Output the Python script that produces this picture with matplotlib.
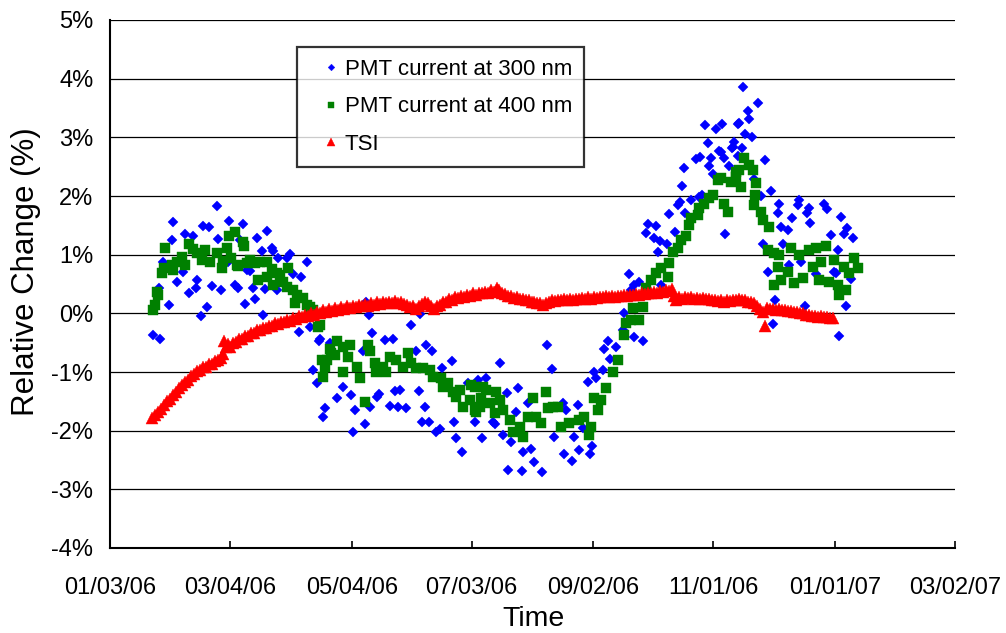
import numpy as np
import matplotlib
matplotlib.use("Agg")
import matplotlib.pyplot as plt
import matplotlib.dates as mdates
from matplotlib.ticker import FixedLocator, FuncFormatter

plt.rcParams['font.family'] = ['Liberation Sans', 'DejaVu Sans']

# ---------------- data (day of year 2006, relative change in %) ----------------
pmt300_day = [24.7, 28, 27.5, 29.7, 32.7, 33.9, 34.7, 36.4, 39.7, 40.5, 42.7, 44.4, 46, 46.7, 48.5, 49.7,
              51.7, 52.7, 53.9, 56.7, 57.2, 58.4, 62.2, 62.7, 65.5, 67.2, 68, 69.4, 70.5, 71.4, 73, 74.7,
              75.5, 76.7, 78.9, 79.4, 80.5, 81.4, 83.9, 84.7, 86.4, 87.2, 91.4, 93, 94.7, 97.7, 98.5, 101.4,
              103, 104.7, 106.4, 108, 107.7, 109.7, 110.5, 113, 116.4, 116.7, 119.7, 123.5, 124.4, 125.5,
              129.4, 130.5, 131.4, 132.7, 133, 134.4, 136.7, 137.7, 140.5, 143.4, 144.7, 145.5, 147.2, 148.4,
              151.4, 153.9, 156.4, 157.7, 158.4, 159.4, 160.5, 161.4, 162.7, 164.4, 166.4, 168.4, 169.4,
              174.4, 175.2, 176.4, 179.4, 182.2, 185.5, 187.2, 189.4, 191.4, 194.7, 195.5, 198, 199.7, 201.9,
              202.2, 203.9, 206.4, 207.2, 209.4, 209.7, 212.2, 213.9, 215.5, 219.4, 221.7, 224.4, 225.5,
              229.7, 230.5, 231.4, 234.4, 235.2, 237.2, 238, 239.7, 242.2, 243.4, 244.4, 245.5, 246.4, 249.7,
              250.5, 252.2, 253.4, 256.4, 259.7, 260.5, 263, 263.9, 265.2, 265.5, 267.7, 270, 271.4, 272.2,
              275.2, 276.4, 277.2, 278.4, 278.9, 281.7, 283, 285.9, 287.2, 288.4, 289.4, 290.2, 291, 293.9,
              296.4, 298, 298.5, 299.4, 301, 302.2, 303, 303.9, 304.7, 306.4, 308, 308.9, 309.2, 310.5, 311,
              313, 314.4, 315, 315.5, 317.2, 317.2, 318, 319.2, 320, 321, 322.2, 323, 324.4, 325.2, 327.2,
              328.9, 329.7, 331, 332.2, 333.9, 335, 336, 337.2, 338, 338.9, 339.7, 342.2, 343, 344.2, 347.2,
              348, 348.9, 351, 351.7, 353, 353.4, 356.4, 360.5, 361.7, 363.9, 365.5, 366.4, 367.2, 368, 369,
              370.5, 371.4, 371.9, 373.9, 375]
pmt300_val = [-0.37, -0.44, 0.43, 0.88, 0.14, 1.25, 1.55, 0.54, 0.71, 1.36, 0.34, 1.32, 0.44, 0.57, -0.05, 1.49,
              0.11, 1.47, 0.47, 1.83, 1.26, 0.40, 0.88, 1.58, 0.48, 0.43, 1.25, 1.52, 0.16, 0.74, 0.73, 0.43,
              0.24, 1.28, 1.06, -0.02, 0.41, 1.40, 1.12, 1.06, 0.40, 0.95, 0.95, 1.01, 0.67, -0.31, 0.62, 0.88,
              -0.23, -0.97, -1.19, -0.43, -0.48, -1.76, -1.62, -0.51, -1.45, -0.47, -1.25, -1.39, -2.03, -1.65,
              -0.64, -1.89, 0.20, -0.03, -1.60, -0.34, -1.43, -1.38, -0.46, -1.58, -0.44, -1.32, -1.59, -1.30,
              -1.61, -0.20, -0.64, -1.32, -0.01, -1.86, -1.59, -0.54, -1.86, -0.64, -2.02, -1.98, -0.94,
              -0.81, -1.85, -2.12, -2.36, -1.18, -1.85, -1.14, -2.12, -1.11, -1.85, -1.89, -0.84, -2.07, -1.35,
              -2.67, -2.19, -1.69, -1.28, -2.69, -2.36, -1.52, -2.32, -2.53, -2.70, -0.54, -0.95, -2.10,
              -1.53, -2.39, -1.64, -2.52, -2.11, -1.57, -2.33, -1.96, -1.17, -2.39, -2.26, -1.00, -1.11, -0.97,
              -0.60, -0.48, -0.78, -0.57, -0.28, 0.00, 0.67, 0.40, -0.41, 0.48, 0.54, -0.47, 1.37, 1.53,
              1.28, 1.49, 1.04, 1.23, 0.49, 1.18, 1.70, 1.38, 1.85, 1.90, 2.17, 2.47, 1.71, 1.94,
              2.63, 1.99, 2.66, 2.02, 3.21, 2.90, 2.51, 2.65, 2.37, 3.14, 2.77, 2.75, 3.23, 2.65, 1.35,
              2.51, 2.82, 2.84, 2.92, 3.23, 2.68, 3.24, 2.81, 3.85, 3.05, 3.45, 3.32, 3.00, 2.29, 3.59,
              2.00, 1.18, 2.61, 0.71, 2.09, -0.18, 0.23, 1.71, 1.87, 1.48, 1.18, 1.42, 0.82, 1.63, 1.85,
              1.94, 0.88, 0.12, 1.71, 1.79, 1.54, 0.67, 1.87, 1.77, 1.33, 0.71, 0.68, 1.08, -0.38, 1.64,
              1.36, 0.13, 1.45, 0.58, 1.29]

pmt400_day = [24.7, 25.5, 26.7, 27.2, 28.9, 30, 30.5, 33.9, 34.7, 36.4, 38.9, 40.5, 42.7, 44.7, 46.7, 48.9,
              50.5, 53, 56.4, 58.9, 59.7, 61.7, 62.7, 65.5, 63.4, 67.2, 70, 71.4, 69.7, 66.4, 73, 75.5, 78,
              81.4, 83.9, 86.4, 88, 92.2, 77.2, 81.4, 84.7, 89.7, 91.4, 94.7, 96.4, 99.7, 95.5, 101.4, 103,
              104.7, 103, 107.2, 108, 108.9, 109.7, 110.5, 111.4, 113, 113.5, 115.5, 116.4, 119.7, 119.7,
              122.2, 123, 126.4, 128, 130.5, 132.2, 133, 135.5, 136.4, 139.7, 141.4, 143, 146.4, 149.7,
              152.2, 153.9, 156.4, 159.7, 163, 164.7, 168.9, 169.7, 172.2, 174.7, 176.4, 178, 179.7, 183,
              185.5, 188, 191.4, 189.7, 183.9, 185.5, 196.4, 188.9, 193, 198, 199.7, 186.4, 195.5, 203,
              204.7, 209.7, 208, 214.7, 212.2, 216.4, 218.9, 221.4, 222.2, 224.7, 227.2, 228.9, 233, 238,
              240.5, 243, 243.9, 245.5, 248.9, 247.2, 251.4, 254.7, 257.2, 260.5, 261.4, 263.9, 264.7, 268,
              269.7, 271.4, 273.9, 276.4, 278.9, 282.2, 283, 284.7, 287.2, 288.9, 291.4, 293, 293.9, 297.2,
              298, 300.5, 303, 304.7, 307.2, 308.9, 310.5, 312.2, 313.9, 316.4, 316.5, 318.9, 318, 320.5,
              323, 324.7, 326.4, 326, 325.5, 328.9, 329.7, 333, 332.2, 335.5, 338, 337.2, 335.5, 338.9,
              342.2, 343.9, 345.5, 348, 349.7, 353, 354.7, 356.4, 358, 358.9, 361.4, 363, 365.5, 367.2, 368,
              371.4, 370.5, 373, 375.5, 377.2]
pmt400_val = [0.06, 0.14, 0.37, 0.31, 0.69, 0.78, 1.12, 0.82, 0.74, 0.88, 0.96, 0.82, 1.19, 1.09, 1.02, 0.91,
              1.08, 0.88, 1.02, 0.78, 0.90, 1.11, 1.31, 1.39, 0.94, 0.81, 1.14, 0.85, 1.22, 0.82, 0.91, 0.85,
              0.88, 0.88, 0.75, 0.68, 0.65, 0.77, 0.57, 0.62, 0.48, 0.54, 0.45, 0.40, 0.31, 0.26, 0.17, 0.14,
              0.11, 0.06, 0.03, -0.23, -0.20, -0.80, -1.08, -0.91, -0.80, -0.60, -0.68, -0.71, -0.48, -0.57,
              -1.00, -0.74, -0.54, -0.91, -1.11, -1.51, -0.54, -0.65, -0.85, -1.00, -0.91, -1.00, -0.74,
              -0.80, -0.91, -0.68, -0.85, -0.94, -0.94, -0.97, -1.08, -1.11, -1.25, -1.19, -1.34, -1.42,
              -1.31, -1.59, -1.48, -1.65, -1.59, -1.31, -1.25, -1.22, -1.25, -1.34, -1.45, -1.53, -1.48,
              -1.65, -1.68, -1.70, -1.82, -2.02, -2.10, -1.93, -1.45, -1.76, -1.76, -1.87, -1.34, -1.62,
              -1.59, -1.59, -1.93, -1.87, -1.82, -1.76, -2.07, -1.93, -1.45, -1.48, -1.65, -1.28, -1.00,
              -0.80, -0.37, -0.17, -0.11, 0.09, -0.11, 0.11, 0.43, 0.57, 0.68, 0.77, 0.62, 0.85, 1.05, 1.11,
              1.25, 1.31, 1.51, 1.62, 1.68, 1.79, 1.87, 1.96, 2.02, 2.27, 2.30, 1.87, 1.73, 2.24, 2.41, 2.33,
              2.16, 2.44, 2.64, 2.53, 2.44, 2.22, 2.02, 1.85, 1.73, 1.59, 1.48, 1.08, 1.02, 0.99, 0.79, 0.48,
              0.57, 0.71, 1.11, 0.51, 0.99, 0.60, 1.08, 0.79, 1.11, 0.57, 0.88, 1.14, 0.54, 0.91, 0.48, 0.31,
              0.40, 0.79, 0.68, 0.94, 0.77]

tsi_day = [24, 25.5, 27, 28.5, 30, 31.5, 33, 34.5, 36, 37.5, 39, 40.5, 42, 43.5, 45, 46.5, 48, 49.5, 51, 52.5,
           54, 55.5, 57, 58.5, 59.5, 60, 61, 62, 63, 64.5, 66, 67.5, 69, 70.5, 72, 73.5, 75, 76.5, 78, 79.5,
           81, 82.5, 84, 85.5, 87, 88.5, 90, 91.5, 93, 94.5, 96, 97.5, 99, 100.5, 102, 103.5, 105, 106.5,
           108, 109.5, 111, 112.5, 114, 115.5, 117, 118.5, 120, 121.5, 123, 124.5, 126, 127.5, 129, 130.5,
           132, 133.5, 135, 136.5, 138, 139.5, 141, 142.5, 144, 145.5, 147, 148.5, 150, 151.5, 153, 154.5,
           156, 157.5, 159, 160.5, 162, 163.5, 165, 166.5, 168, 169.5, 171, 172.5, 174, 175.5, 177, 178.5,
           180, 181.5, 183, 184.5, 186, 187.5, 189, 190.5, 192, 193.5, 195, 196.5, 197.5, 199, 200.5, 202,
           203.5, 205, 206.5, 208, 209.5, 211, 212.5, 214, 215.5, 217, 218.5, 220, 221.5, 223, 224.5, 226,
           227.5, 229, 230.5, 232, 233.5, 235, 236.5, 238, 239.5, 241, 242.5, 244, 245.5, 247, 248.5, 250,
           251.5, 253, 254.5, 256, 257.5, 259, 260.5, 262, 263.5, 265, 266.5, 268, 269.5, 271, 272.5, 274,
           275.5, 277, 278.5, 280, 281.5, 283, 284.5, 285.5, 286.5, 288, 289.5, 291, 292.5, 294, 295.5, 297,
           298.5, 300, 301.5, 303, 304.5, 306, 307.5, 309, 310.5, 312, 313.5, 315, 316.5, 318, 319.5, 321,
           322.5, 324, 325.5, 327, 328.5, 330, 331, 332, 333.5, 335, 336.5, 338, 339.5, 341, 342.5, 344,
           345.5, 347, 348.5, 350, 351.5, 353, 354.5, 356, 357.5, 359, 360.5, 362, 363.5, 365]
tsi_val = [-1.78, -1.74, -1.68, -1.63, -1.56, -1.50, -1.46, -1.40, -1.34, -1.27, -1.23, -1.17, -1.13, -1.07,
           -1.04, -0.98, -0.97, -0.92, -0.92, -0.87, -0.87, -0.82, -0.80, -0.76, -0.70, -0.47, -0.58, -0.53,
           -0.57, -0.51, -0.49, -0.44, -0.44, -0.39, -0.39, -0.34, -0.34, -0.29, -0.29, -0.25, -0.25, -0.21,
           -0.22, -0.17, -0.19, -0.14, -0.15, -0.11, -0.13, -0.08, -0.10, -0.05, -0.07, -0.02, -0.05, 0.00,
           -0.02, 0.03, 0.00, 0.05, 0.02, 0.07, 0.04, 0.09, 0.06, 0.10, 0.07, 0.12, 0.09, 0.13, 0.10, 0.15,
           0.12, 0.16, 0.13, 0.18, 0.15, 0.19, 0.16, 0.20, 0.17, 0.20, 0.17, 0.21, 0.18, 0.20, 0.16, 0.15,
           0.11, 0.13, 0.08, 0.13, 0.16, 0.20, 0.18, 0.13, 0.08, 0.12, 0.15, 0.20, 0.20, 0.24, 0.23, 0.27,
           0.26, 0.30, 0.28, 0.32, 0.30, 0.34, 0.31, 0.35, 0.34, 0.37, 0.35, 0.39, 0.37, 0.43, 0.40, 0.35,
           0.33, 0.30, 0.29, 0.26, 0.27, 0.24, 0.24, 0.22, 0.22, 0.19, 0.20, 0.17, 0.17, 0.15, 0.18, 0.19,
           0.22, 0.21, 0.23, 0.22, 0.24, 0.23, 0.25, 0.23, 0.25, 0.24, 0.26, 0.25, 0.27, 0.25, 0.28, 0.26,
           0.28, 0.27, 0.29, 0.27, 0.30, 0.28, 0.30, 0.29, 0.31, 0.30, 0.32, 0.31, 0.33, 0.32, 0.34, 0.33,
           0.35, 0.34, 0.36, 0.35, 0.38, 0.37, 0.40, 0.38, 0.41, 0.30, 0.23, 0.27, 0.25, 0.28, 0.26, 0.27,
           0.25, 0.26, 0.24, 0.26, 0.24, 0.25, 0.23, 0.23, 0.21, 0.22, 0.20, 0.22, 0.21, 0.23, 0.22, 0.25,
           0.23, 0.23, 0.20, 0.19, 0.17, 0.13, 0.08, 0.02, -0.22, 0.09, 0.07, 0.08, 0.06, 0.07, 0.05, 0.06,
           0.04, 0.04, 0.02, 0.02, 0.00, 0.00, -0.02, -0.02, -0.04, -0.04, -0.06, -0.05, -0.07, -0.06, -0.08,
           -0.08]

tick_dates = ['2006-01-03', '2006-03-04', '2006-05-04', '2006-07-03', '2006-09-02', '2006-11-01',
              '2007-01-01', '2007-03-02']
tick_labels = ['01/03/06', '03/04/06', '05/04/06', '07/03/06', '09/02/06', '11/01/06', '01/01/07', '03/02/07']
y_ticks = [-4, -3, -2, -1, 0, 1, 2, 3, 4, 5]

series_labels = ['PMT current at 300 nm', 'PMT current at 400 nm', 'TSI']


def to_dates(days):
    base = np.datetime64('2006-01-01T00:00')
    return base + (np.array(days) - 1) * np.timedelta64(1440, 'm')


fig = plt.figure(figsize=(10.06, 6.33), dpi=100)
ax = fig.add_axes([110 / 1006, 85 / 633, 845 / 1006, 528 / 633])

ax.plot(to_dates(pmt300_day), pmt300_val, linestyle='none', marker='D', ms=4.8,
        color='#0000FF', mec='#0000FF', mew=0.3, label=series_labels[0], zorder=3)
ax.plot(to_dates(pmt400_day), pmt400_val, linestyle='none', marker='s', ms=7.0,
        color='#008000', mec='#008000', mew=0.3, label=series_labels[1], zorder=4)
ax.plot(to_dates(tsi_day), tsi_val, linestyle='none', marker='^', ms=8.0,
        color='#FF0000', mec='#FF0000', mew=0.3, label=series_labels[2], zorder=5)

tick_pos = mdates.date2num(np.array(tick_dates, dtype='datetime64[m]'))
ax.set_xlim(tick_pos[0], tick_pos[-1])
ax.xaxis.set_major_locator(FixedLocator(tick_pos))
ax.set_xticklabels(tick_labels)
ax.set_ylim(-4, 5)
ax.set_yticks(y_ticks)
ax.yaxis.set_major_formatter(FuncFormatter(lambda v, p: f"{int(round(v))}%"))

ax.grid(axis='y', color='black', linewidth=0.9, zorder=1)
ax.set_axisbelow(True)
for s in ['top', 'right']:
    ax.spines[s].set_visible(False)
for s in ['left', 'bottom']:
    ax.spines[s].set_linewidth(1.5)
    ax.spines[s].set_color('black')

ax.tick_params(axis='x', direction='in', length=5, width=1.2, labelsize=17, pad=21)
ax.tick_params(axis='y', direction='in', length=0, labelsize=17, pad=12)

ax.set_xlabel('Time', fontsize=20.5)
ax.xaxis.set_label_coords(0.5006, -0.109)
ax.set_ylabel('Relative Change (%)', fontsize=22.5)
ax.yaxis.set_label_coords(-0.082, 0.523)

leg = ax.legend(loc='upper left', bbox_to_anchor=((297 - 110) / 845, (548 - 47) / 528),
                borderaxespad=0, frameon=True, fancybox=False, fontsize=16,
                handlelength=2.0, handletextpad=-0.4, labelspacing=0.73, borderpad=0.55,
                markerscale=0.7, edgecolor='black')
leg.get_frame().set_linewidth(1.6)
leg.get_frame().set_facecolor('white')
leg.set_zorder(10)

fig.savefig('out.png', dpi=100)
